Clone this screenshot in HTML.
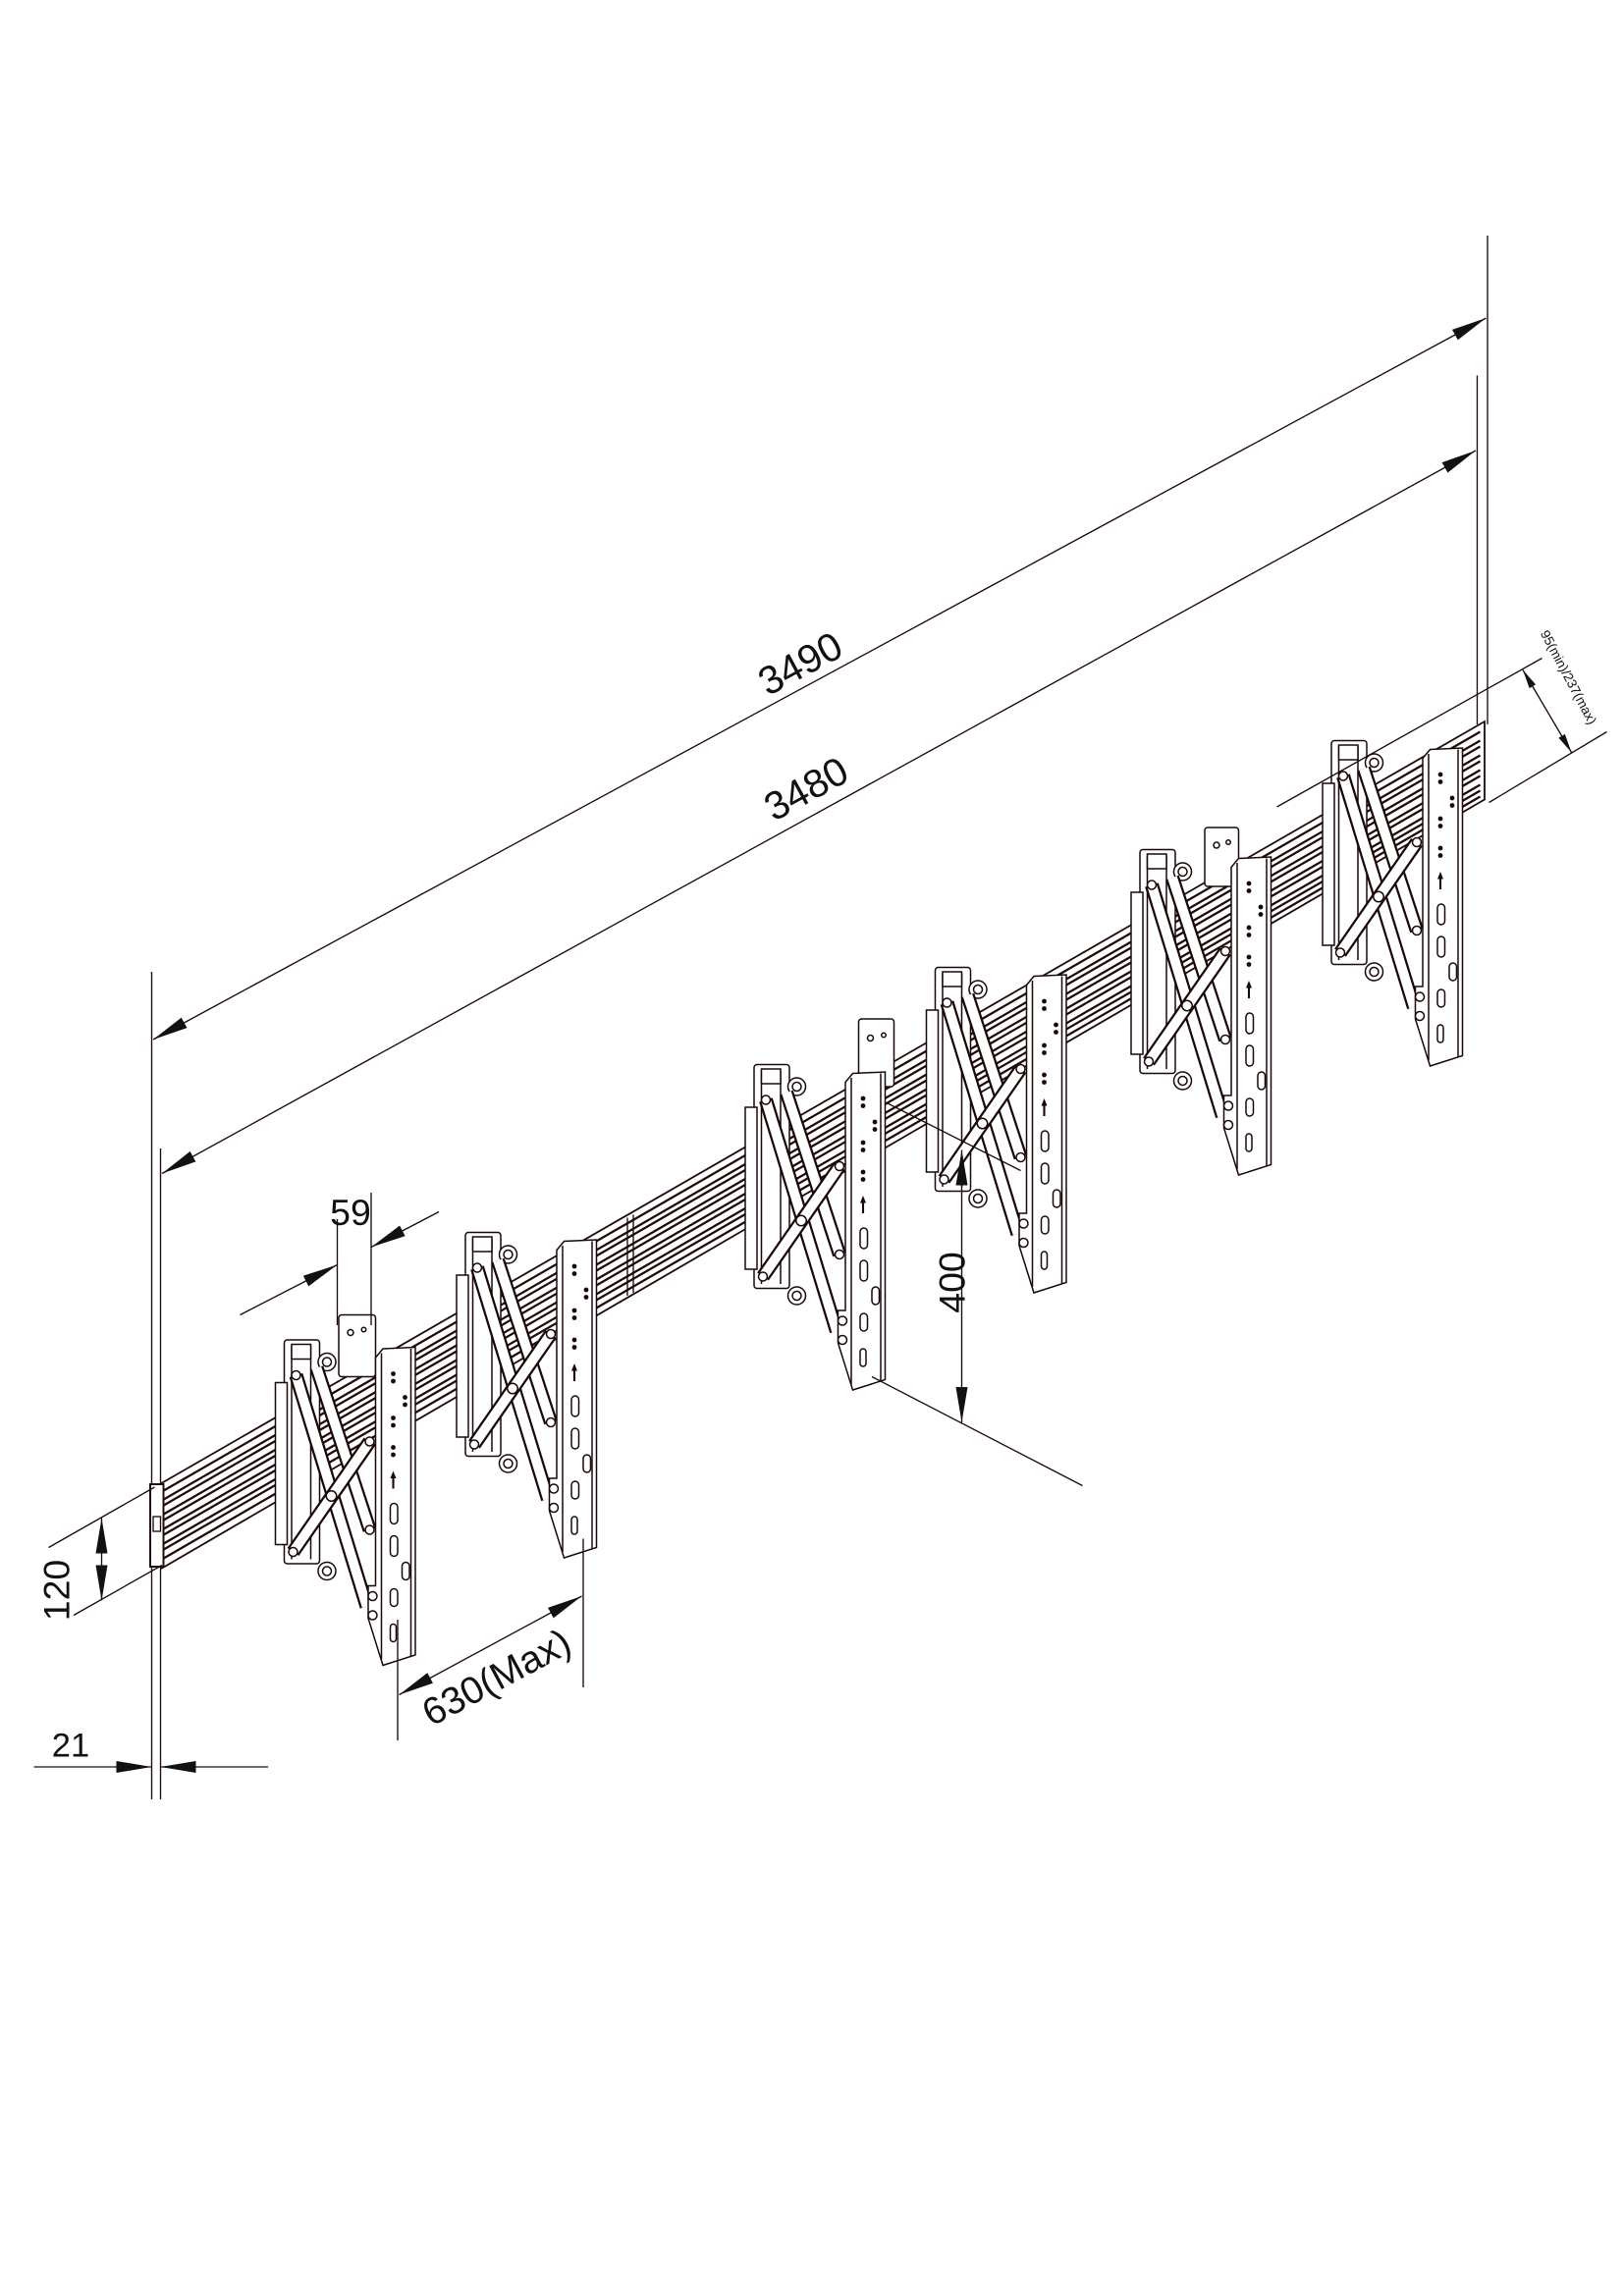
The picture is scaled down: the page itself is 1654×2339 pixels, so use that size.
<!DOCTYPE html>
<html><head><meta charset="utf-8"><style>html,body{margin:0;padding:0;background:#fff}svg{display:block}</style></head>
<body>
<svg width="1654" height="2339" viewBox="0 0 1102.67 1559.33" xmlns="http://www.w3.org/2000/svg" font-family="Liberation Sans, Arial, sans-serif">
<defs>
<marker id="ar" markerUnits="userSpaceOnUse" markerWidth="26" markerHeight="10" refX="24" refY="4" orient="auto-start-reverse" viewBox="0 0 26 10"><path d="M0,0 L24,4 L0,8 z" fill="#111"/></marker>
<marker id="as" markerUnits="userSpaceOnUse" markerWidth="14" markerHeight="6" refX="13" refY="2.5" orient="auto-start-reverse" viewBox="0 0 14 6"><path d="M0,0 L13,2.5 L0,5 z" fill="#111"/></marker>
<g id="unit" stroke="#1a0808" stroke-width="1" fill="#fff">
  <rect x="-62" y="-9" width="24" height="152" rx="2"/>
  <line x1="-57" y1="-5" x2="-57" y2="140"/>
  <line x1="-44" y1="-5" x2="-44" y2="140"/>
  <rect x="-57" y="-6" width="13" height="10"/>
  <circle cx="-33" cy="6" r="6"/><circle cx="-33" cy="6" r="3"/>
  <circle cx="-33" cy="148" r="6"/><circle cx="-33" cy="148" r="3"/>
  <rect x="-68" y="20" width="8" height="110"/>
  <line x1="-54" y1="15" x2="-6" y2="172" stroke="#1a0808" stroke-width="9.5"/>
  <line x1="-54" y1="15" x2="-6" y2="172" stroke="#fff" stroke-width="6.5"/>
  <line x1="-40" y1="10" x2="-4" y2="120" stroke="#1a0808" stroke-width="9.5"/>
  <line x1="-40" y1="10" x2="-4" y2="120" stroke="#fff" stroke-width="6.5"/>
  <line x1="-56" y1="135" x2="-4" y2="60" stroke="#1a0808" stroke-width="9.5"/>
  <line x1="-56" y1="135" x2="-4" y2="60" stroke="#fff" stroke-width="6.5"/>
  <circle cx="-30" cy="97" r="3.5"/>
  <circle cx="-56" cy="135" r="3"/><circle cx="-54" cy="15" r="3"/>
  <circle cx="-4" cy="60" r="3"/><circle cx="-4" cy="120" r="3"/>
  <path d="M0,3 L5,-3 L27,-4 L27,205 L5,212 L-5,180 L-5,158 L0,158 Z"/>
  <line x1="4" y1="0" x2="4" y2="208"/>
  <line x1="24" y1="-3" x2="24" y2="206"/>
  <g fill="#1a0808" stroke="none">
   <circle cx="12" cy="14" r="1.6"/><circle cx="12" cy="19" r="1.6"/>
   <circle cx="20" cy="30" r="1.6"/><circle cx="20" cy="35" r="1.6"/>
   <circle cx="12" cy="44" r="1.6"/><circle cx="12" cy="49" r="1.6"/>
   <circle cx="12" cy="64" r="1.6"/><circle cx="12" cy="69" r="1.6"/>
   <path d="M12,80 L10,85 L11.3,85 L11.3,92 L12.7,92 L12.7,85 L14,85 Z"/>
  </g>
  <rect x="10" y="102" width="5" height="14" rx="2.5"/>
  <rect x="10" y="124" width="5" height="14" rx="2.5"/>
  <rect x="18" y="142" width="5" height="12" rx="2.5"/>
  <rect x="10" y="160" width="5" height="12" rx="2.5"/>
  <rect x="10" y="184" width="4" height="12" rx="2"/>
  <circle cx="-2" cy="165" r="3"/><circle cx="-2" cy="178" r="3"/>
</g>
</defs>

<g stroke="#1f0a0a" stroke-width="0.9" fill="none">
<line x1="103" y1="660" x2="103" y2="1222"/>
<line x1="109" y1="780" x2="109" y2="1222"/>
<line x1="1010" y1="160" x2="1010" y2="492"/>
<line x1="1003" y1="255" x2="1003" y2="492"/>
<line x1="104" y1="706" x2="1009" y2="216" marker-start="url(#ar)" marker-end="url(#ar)"/>
<line x1="110" y1="797" x2="1002" y2="306" marker-start="url(#ar)" marker-end="url(#ar)"/>

<path d="M105,1010 L1008,490 L1008,543 L110,1065 Z" fill="#fff" stroke-width="1.2"/>
<g stroke-width="1.5">
<line x1="110" y1="1013" x2="1005" y2="497"/>
<line x1="110" y1="1019" x2="1005" y2="503"/>
<line x1="110" y1="1023" x2="1005" y2="507"/>
<line x1="110" y1="1029" x2="1005" y2="513"/>
<line x1="110" y1="1033" x2="1005" y2="517"/>
<line x1="110" y1="1039" x2="1005" y2="523"/>
<line x1="110" y1="1043" x2="1005" y2="527"/>
<line x1="110" y1="1049" x2="1005" y2="533"/>
<line x1="110" y1="1053" x2="1005" y2="537"/>
<line x1="110" y1="1059" x2="1005" y2="541"/>
</g>
<line x1="430" y1="825" x2="430" y2="878"/>
<line x1="426" y1="827" x2="426" y2="880"/>
<rect x="102" y="1008" width="9" height="56" fill="#fff" stroke-width="1.3"/>
<rect x="104" y="1030" width="5" height="10"/>

<line x1="105" y1="1010" x2="33" y2="1051"/>
<line x1="110" y1="1063" x2="50" y2="1097"/>
<line x1="69" y1="1031" x2="69" y2="1087" marker-start="url(#ar)" marker-end="url(#ar)"/>
<line x1="23" y1="1200" x2="103" y2="1200" marker-end="url(#ar)"/>
<line x1="182" y1="1200" x2="109" y2="1200" marker-end="url(#ar)"/>
</g>

<g stroke="#1a0808" stroke-width="1" fill="#fff">
<rect x="230" y="893" width="25" height="42" rx="2"/><circle cx="238" cy="905" r="2"/><circle cx="247" cy="903" r="1.5"/>
<rect x="583" y="692" width="24" height="46" rx="2"/><circle cx="591" cy="705" r="2"/><circle cx="600" cy="703" r="1.5"/>
<rect x="818" y="562" width="23" height="40" rx="2"/><circle cx="826" cy="574" r="2"/><circle cx="834" cy="572" r="1.5"/>
</g>

<use href="#unit" x="255" y="919"/>
<use href="#unit" x="378" y="846"/>
<use href="#unit" x="574" y="732"/>
<use href="#unit" x="697" y="666"/>
<use href="#unit" x="836" y="586"/>
<use href="#unit" x="966" y="512"/>

<g stroke="#1f0a0a" stroke-width="0.9" fill="none">
<line x1="229" y1="828" x2="229" y2="900"/>
<line x1="252" y1="810" x2="252" y2="900"/>
<line x1="163" y1="893" x2="229" y2="859" marker-end="url(#ar)"/>
<line x1="298" y1="823" x2="252" y2="847" marker-end="url(#ar)"/>
<line x1="270" y1="1100" x2="270" y2="1182"/>
<line x1="396" y1="1045" x2="396" y2="1146"/>
<line x1="271" y1="1151" x2="395" y2="1084" marker-start="url(#ar)" marker-end="url(#ar)"/>
<line x1="653" y1="781" x2="653" y2="966" marker-start="url(#ar)" marker-end="url(#ar)"/>
<line x1="592" y1="935" x2="735" y2="1009"/>
<line x1="602" y1="749" x2="693" y2="795"/>
<line x1="867" y1="548" x2="1047" y2="447"/>
<line x1="1011" y1="545" x2="1091" y2="497"/>
<line x1="1034" y1="455" x2="1067" y2="511" marker-start="url(#as)" marker-end="url(#as)"/>
</g>

<g fill="#111" font-size="27">
<text x="543" y="460" text-anchor="middle" transform="rotate(-28.4 543 450)">3490</text>
<text x="547" y="545" text-anchor="middle" transform="rotate(-28.8 547 535)">3480</text>
<text x="238" y="832" text-anchor="middle" font-size="25">59</text>
<text x="48" y="1193" text-anchor="middle" font-size="23">21</text>
<text x="38" y="1089" text-anchor="middle" font-size="25" transform="rotate(-90 38 1080)">120</text>
<text x="646" y="880" text-anchor="middle" font-size="25" transform="rotate(-90 646 871)">400</text>
<text x="337" y="1148" text-anchor="middle" font-size="26" transform="rotate(-28.2 337 1139)">630(Max)</text>
<text x="1065" y="463" text-anchor="middle" font-size="9" transform="rotate(62 1065 460)">95(min)/237(max)</text>
</g>
</svg>
</body></html>
